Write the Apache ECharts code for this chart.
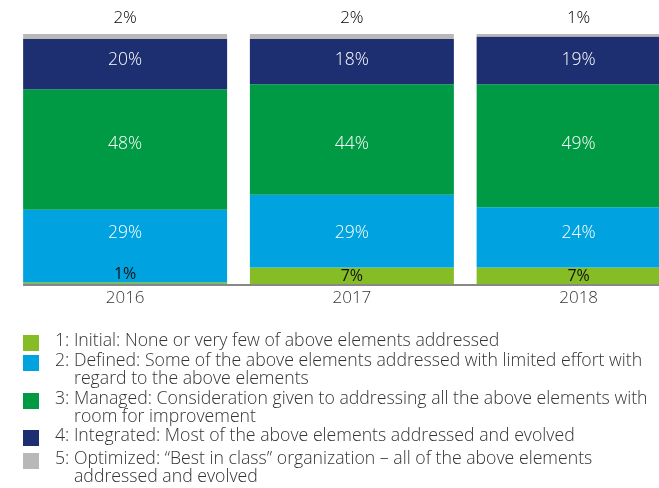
<!DOCTYPE html>
<html>
<head>
<meta charset="utf-8">
<script src="https://cdn.jsdelivr.net/npm/echarts@6/dist/echarts.min.js"></script>
<style>
html,body{margin:0;padding:0;background:#fff;overflow:hidden;width:659px;height:488px;}
#chart{width:692px;height:488px;}
</style>
</head>
<body>
<div id="chart"></div>
<script>
var years = ['2016', '2017', '2018'];
var initial = [1, 7, 7];
var defined = [29, 29, 24];
var managed = [48, 44, 49];
var integrated = [20, 18, 19];
var optimized = [2, 2, 1];

var seriesNames = ['1: Initial', '2: Defined', '3: Managed', '4: Integrated', '5: Optimized'];
var legendLines = [
  ['1: Initial: None or very few of above elements addressed'],
  ['2: Defined: Some of the above elements addressed with limited effort with', 'regard to the above elements'],
  ['3: Managed: Consideration given to addressing all the above elements with', 'room for improvement'],
  ['4: Integrated: Most of the above elements addressed and evolved'],
  ['5: Optimized: \u201cBest in class\u201d organization \u2013 all of the above elements', 'addressed and evolved']
];
// label rows in the original sit at a common height per series (value units)
var labelRowValue = [null, 20.7, 56, 89.6, null];
var colors = ['#86bc25', '#00a3e0', '#009a44', '#1d2f71', '#b8b8b8'];
var FONT = '"Open Sans", sans-serif';

var chart = echarts.init(document.getElementById('chart'));

function pct(p) { return p.value + '%'; }

var allData = [initial, defined, managed, integrated, optimized];

function buildSeries(offsets) {
  return allData.map(function (arr, si) {
    var data = arr.map(function (v, ci) {
      var item = { value: v };
      if (si === 0 && v < 3) {
        item.label = { position: 'top', distance: 0 };
      } else if (offsets && offsets[si] && offsets[si][ci] != null) {
        item.label = { offset: [0, offsets[si][ci]] };
      }
      return item;
    });
    var isTop = si === 4;
    var labelStyle;
    if (isTop) {
      labelStyle = { color: '#000000', fontSize: 17, fontWeight: 300 };
    } else if (si === 0) {
      labelStyle = { color: '#111111', fontSize: 16, fontWeight: 400 };
    } else {
      labelStyle = { color: '#ffffff', fontSize: 17.5, fontWeight: 300 };
    }
    labelStyle.show = true;
    labelStyle.position = isTop ? 'top' : 'inside';
    labelStyle.distance = 7;
    labelStyle.fontFamily = FONT;
    labelStyle.formatter = pct;
    return {
      type: 'bar', stack: 'total', name: seriesNames[si],
      barWidth: 204, color: colors[si], data: data,
      emphasis: { disabled: true },
      label: labelStyle
    };
  });
}

// legend graphics
var centers = [345, 365, 403, 440, 463];
var graphics = [];
legendLines.forEach(function (lines, i) {
  graphics.push({
    type: 'rect', left: 23, top: centers[i] - 10,
    shape: { width: 16, height: 16 },
    style: { fill: colors[i] }
  });
  lines.forEach(function (t, j) {
    graphics.push({
      type: 'text', left: j === 0 ? 55 : 74, top: centers[i] + j * 18 - 13,
      style: { text: t, fill: '#333333', font: '300 17.7px "Open Sans", sans-serif' }
    });
  });
});
graphics.push({
  type: 'line', z: 10,
  shape: { x1: 23, y1: 285, x2: 700, y2: 285 },
  style: { stroke: '#888888', lineWidth: 2 }
});

var baseOption = {
  animation: false,
  textStyle: { fontFamily: FONT },
  grid: { left: 11.75, right: 0, top: 34, height: 251, containLabel: false },
  xAxis: {
    type: 'category', data: years,
    axisLine: { show: false },
    axisTick: { show: false },
    axisLabel: { color: '#333333', fontSize: 17, fontWeight: 300, margin: 5, fontFamily: FONT }
  },
  yAxis: { type: 'value', min: 0, max: 100, show: false },
  series: buildSeries(null),
  graphic: graphics
};
chart.setOption(baseOption);

// compute label offsets so each row of labels sits on a common line
var offsets = allData.map(function (arr, si) {
  if (labelRowValue[si] == null) return null;
  return arr.map(function (v, ci) {
    var below = 0;
    for (var k = 0; k < si; k++) below += allData[k][ci];
    var mid = below + v / 2;
    var pMid = chart.convertToPixel({ yAxisIndex: 0 }, mid);
    var pTarget = chart.convertToPixel({ yAxisIndex: 0 }, labelRowValue[si]);
    return pTarget - pMid;
  });
});
chart.setOption({ series: buildSeries(offsets) });
</script>
</body>
</html>
